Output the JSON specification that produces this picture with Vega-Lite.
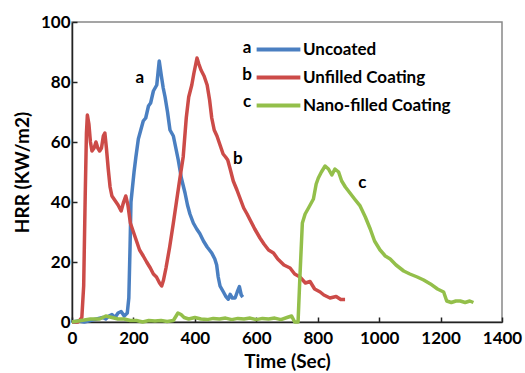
{
  "$schema": "https://vega.github.io/schema/vega-lite/v6.json",
  "width": 430,
  "height": 300,
  "autosize": "none",
  "padding": {"left": 72, "top": 22, "right": 23, "bottom": 51},
  "config": {"font": "Lato", "view": {"stroke": "#888888", "strokeWidth": 1.5}},
  "datasets": {
    "curves": [
      {"series": "Uncoated", "t": 0, "hrr": 0}, {"series": "Uncoated", "t": 20, "hrr": 0.3}, {"series": "Uncoated", "t": 40, "hrr": 0}, {"series": "Uncoated", "t": 60, "hrr": 0.5}, {"series": "Uncoated", "t": 80, "hrr": 1}, {"series": "Uncoated", "t": 100, "hrr": 1.5}, {"series": "Uncoated", "t": 110, "hrr": 1}, {"series": "Uncoated", "t": 120, "hrr": 2}, {"series": "Uncoated", "t": 130, "hrr": 2.5}, {"series": "Uncoated", "t": 140, "hrr": 1.5}, {"series": "Uncoated", "t": 150, "hrr": 3}, {"series": "Uncoated", "t": 160, "hrr": 3.5}, {"series": "Uncoated", "t": 170, "hrr": 2}, {"series": "Uncoated", "t": 180, "hrr": 3}, {"series": "Uncoated", "t": 185, "hrr": 8}, {"series": "Uncoated", "t": 189, "hrr": 25}, {"series": "Uncoated", "t": 192, "hrr": 40}, {"series": "Uncoated", "t": 202, "hrr": 50}, {"series": "Uncoated", "t": 208, "hrr": 55}, {"series": "Uncoated", "t": 216, "hrr": 61}, {"series": "Uncoated", "t": 224, "hrr": 64}, {"series": "Uncoated", "t": 232, "hrr": 67}, {"series": "Uncoated", "t": 240, "hrr": 68}, {"series": "Uncoated", "t": 249, "hrr": 72}, {"series": "Uncoated", "t": 256, "hrr": 73}, {"series": "Uncoated", "t": 265, "hrr": 77}, {"series": "Uncoated", "t": 276, "hrr": 79}, {"series": "Uncoated", "t": 280, "hrr": 83}, {"series": "Uncoated", "t": 284, "hrr": 87}, {"series": "Uncoated", "t": 291, "hrr": 82}, {"series": "Uncoated", "t": 297, "hrr": 78}, {"series": "Uncoated", "t": 303, "hrr": 75}, {"series": "Uncoated", "t": 311, "hrr": 70}, {"series": "Uncoated", "t": 319, "hrr": 64}, {"series": "Uncoated", "t": 330, "hrr": 62}, {"series": "Uncoated", "t": 338, "hrr": 58}, {"series": "Uncoated", "t": 346, "hrr": 54}, {"series": "Uncoated", "t": 356, "hrr": 48}, {"series": "Uncoated", "t": 368, "hrr": 43}, {"series": "Uncoated", "t": 376, "hrr": 39}, {"series": "Uncoated", "t": 384, "hrr": 36}, {"series": "Uncoated", "t": 395, "hrr": 33}, {"series": "Uncoated", "t": 406, "hrr": 31}, {"series": "Uncoated", "t": 416, "hrr": 29.5}, {"series": "Uncoated", "t": 428, "hrr": 27}, {"series": "Uncoated", "t": 440, "hrr": 25}, {"series": "Uncoated", "t": 455, "hrr": 23}, {"series": "Uncoated", "t": 465, "hrr": 21}, {"series": "Uncoated", "t": 471, "hrr": 19}, {"series": "Uncoated", "t": 476, "hrr": 15}, {"series": "Uncoated", "t": 482, "hrr": 12}, {"series": "Uncoated", "t": 493, "hrr": 10}, {"series": "Uncoated", "t": 501, "hrr": 8.5}, {"series": "Uncoated", "t": 509, "hrr": 7.6}, {"series": "Uncoated", "t": 515, "hrr": 9.2}, {"series": "Uncoated", "t": 522, "hrr": 8}, {"series": "Uncoated", "t": 531, "hrr": 8}, {"series": "Uncoated", "t": 538, "hrr": 10}, {"series": "Uncoated", "t": 545, "hrr": 11.8}, {"series": "Uncoated", "t": 551, "hrr": 9}, {"series": "Uncoated", "t": 556, "hrr": 8.3},
      {"series": "Unfilled Coating", "t": 0, "hrr": 0}, {"series": "Unfilled Coating", "t": 20, "hrr": 0}, {"series": "Unfilled Coating", "t": 32, "hrr": 1.5}, {"series": "Unfilled Coating", "t": 38, "hrr": 12}, {"series": "Unfilled Coating", "t": 43, "hrr": 42}, {"series": "Unfilled Coating", "t": 47, "hrr": 63}, {"series": "Unfilled Coating", "t": 50, "hrr": 69}, {"series": "Unfilled Coating", "t": 55, "hrr": 66}, {"series": "Unfilled Coating", "t": 60, "hrr": 60}, {"series": "Unfilled Coating", "t": 65, "hrr": 57}, {"series": "Unfilled Coating", "t": 72, "hrr": 58}, {"series": "Unfilled Coating", "t": 78, "hrr": 60}, {"series": "Unfilled Coating", "t": 84, "hrr": 58}, {"series": "Unfilled Coating", "t": 90, "hrr": 57}, {"series": "Unfilled Coating", "t": 96, "hrr": 58}, {"series": "Unfilled Coating", "t": 102, "hrr": 62}, {"series": "Unfilled Coating", "t": 107, "hrr": 63}, {"series": "Unfilled Coating", "t": 112, "hrr": 58}, {"series": "Unfilled Coating", "t": 118, "hrr": 51}, {"series": "Unfilled Coating", "t": 124, "hrr": 45}, {"series": "Unfilled Coating", "t": 130, "hrr": 42}, {"series": "Unfilled Coating", "t": 140, "hrr": 40.5}, {"series": "Unfilled Coating", "t": 150, "hrr": 39}, {"series": "Unfilled Coating", "t": 160, "hrr": 37}, {"series": "Unfilled Coating", "t": 168, "hrr": 40}, {"series": "Unfilled Coating", "t": 175, "hrr": 42}, {"series": "Unfilled Coating", "t": 182, "hrr": 39}, {"series": "Unfilled Coating", "t": 190, "hrr": 33}, {"series": "Unfilled Coating", "t": 200, "hrr": 30}, {"series": "Unfilled Coating", "t": 210, "hrr": 27}, {"series": "Unfilled Coating", "t": 220, "hrr": 24}, {"series": "Unfilled Coating", "t": 232, "hrr": 22}, {"series": "Unfilled Coating", "t": 243, "hrr": 20}, {"series": "Unfilled Coating", "t": 255, "hrr": 18}, {"series": "Unfilled Coating", "t": 265, "hrr": 16}, {"series": "Unfilled Coating", "t": 275, "hrr": 15}, {"series": "Unfilled Coating", "t": 285, "hrr": 13}, {"series": "Unfilled Coating", "t": 292, "hrr": 12}, {"series": "Unfilled Coating", "t": 298, "hrr": 14}, {"series": "Unfilled Coating", "t": 306, "hrr": 18}, {"series": "Unfilled Coating", "t": 318, "hrr": 25}, {"series": "Unfilled Coating", "t": 330, "hrr": 33}, {"series": "Unfilled Coating", "t": 340, "hrr": 40}, {"series": "Unfilled Coating", "t": 350, "hrr": 47}, {"series": "Unfilled Coating", "t": 362, "hrr": 55}, {"series": "Unfilled Coating", "t": 372, "hrr": 68}, {"series": "Unfilled Coating", "t": 380, "hrr": 75}, {"series": "Unfilled Coating", "t": 390, "hrr": 79}, {"series": "Unfilled Coating", "t": 397, "hrr": 83}, {"series": "Unfilled Coating", "t": 403, "hrr": 86}, {"series": "Unfilled Coating", "t": 407, "hrr": 88}, {"series": "Unfilled Coating", "t": 413, "hrr": 86}, {"series": "Unfilled Coating", "t": 420, "hrr": 84}, {"series": "Unfilled Coating", "t": 430, "hrr": 82}, {"series": "Unfilled Coating", "t": 440, "hrr": 79}, {"series": "Unfilled Coating", "t": 448, "hrr": 74}, {"series": "Unfilled Coating", "t": 455, "hrr": 68}, {"series": "Unfilled Coating", "t": 463, "hrr": 64}, {"series": "Unfilled Coating", "t": 472, "hrr": 62}, {"series": "Unfilled Coating", "t": 482, "hrr": 59}, {"series": "Unfilled Coating", "t": 492, "hrr": 56}, {"series": "Unfilled Coating", "t": 500, "hrr": 55}, {"series": "Unfilled Coating", "t": 507, "hrr": 54}, {"series": "Unfilled Coating", "t": 515, "hrr": 51}, {"series": "Unfilled Coating", "t": 525, "hrr": 47}, {"series": "Unfilled Coating", "t": 537, "hrr": 44}, {"series": "Unfilled Coating", "t": 548, "hrr": 41}, {"series": "Unfilled Coating", "t": 559, "hrr": 38}, {"series": "Unfilled Coating", "t": 570, "hrr": 36}, {"series": "Unfilled Coating", "t": 580, "hrr": 34}, {"series": "Unfilled Coating", "t": 595, "hrr": 31}, {"series": "Unfilled Coating", "t": 612, "hrr": 28}, {"series": "Unfilled Coating", "t": 625, "hrr": 26}, {"series": "Unfilled Coating", "t": 640, "hrr": 24}, {"series": "Unfilled Coating", "t": 656, "hrr": 23}, {"series": "Unfilled Coating", "t": 670, "hrr": 21}, {"series": "Unfilled Coating", "t": 690, "hrr": 19}, {"series": "Unfilled Coating", "t": 710, "hrr": 18}, {"series": "Unfilled Coating", "t": 725, "hrr": 16}, {"series": "Unfilled Coating", "t": 742, "hrr": 15}, {"series": "Unfilled Coating", "t": 760, "hrr": 13}, {"series": "Unfilled Coating", "t": 775, "hrr": 13.5}, {"series": "Unfilled Coating", "t": 790, "hrr": 11}, {"series": "Unfilled Coating", "t": 808, "hrr": 10}, {"series": "Unfilled Coating", "t": 820, "hrr": 9}, {"series": "Unfilled Coating", "t": 840, "hrr": 8}, {"series": "Unfilled Coating", "t": 860, "hrr": 8.5}, {"series": "Unfilled Coating", "t": 875, "hrr": 7.5}, {"series": "Unfilled Coating", "t": 889, "hrr": 7.5},
      {"series": "Nano-filled Coating", "t": 0, "hrr": 0}, {"series": "Nano-filled Coating", "t": 30, "hrr": 0.5}, {"series": "Nano-filled Coating", "t": 60, "hrr": 1}, {"series": "Nano-filled Coating", "t": 90, "hrr": 1}, {"series": "Nano-filled Coating", "t": 110, "hrr": 2}, {"series": "Nano-filled Coating", "t": 130, "hrr": 1.5}, {"series": "Nano-filled Coating", "t": 150, "hrr": 1}, {"series": "Nano-filled Coating", "t": 170, "hrr": 1}, {"series": "Nano-filled Coating", "t": 190, "hrr": 0.5}, {"series": "Nano-filled Coating", "t": 210, "hrr": 0.5}, {"series": "Nano-filled Coating", "t": 230, "hrr": 0}, {"series": "Nano-filled Coating", "t": 250, "hrr": 0.5}, {"series": "Nano-filled Coating", "t": 270, "hrr": 0.3}, {"series": "Nano-filled Coating", "t": 290, "hrr": 0.5}, {"series": "Nano-filled Coating", "t": 310, "hrr": 0.2}, {"series": "Nano-filled Coating", "t": 330, "hrr": 0.5}, {"series": "Nano-filled Coating", "t": 345, "hrr": 3}, {"series": "Nano-filled Coating", "t": 355, "hrr": 2.5}, {"series": "Nano-filled Coating", "t": 365, "hrr": 1.5}, {"series": "Nano-filled Coating", "t": 380, "hrr": 1}, {"series": "Nano-filled Coating", "t": 400, "hrr": 1.5}, {"series": "Nano-filled Coating", "t": 420, "hrr": 1}, {"series": "Nano-filled Coating", "t": 440, "hrr": 0.8}, {"series": "Nano-filled Coating", "t": 460, "hrr": 1.2}, {"series": "Nano-filled Coating", "t": 480, "hrr": 1}, {"series": "Nano-filled Coating", "t": 500, "hrr": 1.3}, {"series": "Nano-filled Coating", "t": 520, "hrr": 0.8}, {"series": "Nano-filled Coating", "t": 540, "hrr": 1.2}, {"series": "Nano-filled Coating", "t": 560, "hrr": 1}, {"series": "Nano-filled Coating", "t": 580, "hrr": 1.3}, {"series": "Nano-filled Coating", "t": 600, "hrr": 0.8}, {"series": "Nano-filled Coating", "t": 620, "hrr": 1.2}, {"series": "Nano-filled Coating", "t": 640, "hrr": 1}, {"series": "Nano-filled Coating", "t": 660, "hrr": 1.3}, {"series": "Nano-filled Coating", "t": 680, "hrr": 0.8}, {"series": "Nano-filled Coating", "t": 700, "hrr": 1.5}, {"series": "Nano-filled Coating", "t": 715, "hrr": 2}, {"series": "Nano-filled Coating", "t": 725, "hrr": 0}, {"series": "Nano-filled Coating", "t": 736, "hrr": 0}, {"series": "Nano-filled Coating", "t": 742, "hrr": 15}, {"series": "Nano-filled Coating", "t": 750, "hrr": 33}, {"series": "Nano-filled Coating", "t": 759, "hrr": 36}, {"series": "Nano-filled Coating", "t": 770, "hrr": 38}, {"series": "Nano-filled Coating", "t": 786, "hrr": 41}, {"series": "Nano-filled Coating", "t": 795, "hrr": 46}, {"series": "Nano-filled Coating", "t": 802, "hrr": 48}, {"series": "Nano-filled Coating", "t": 812, "hrr": 50}, {"series": "Nano-filled Coating", "t": 824, "hrr": 52}, {"series": "Nano-filled Coating", "t": 835, "hrr": 51}, {"series": "Nano-filled Coating", "t": 846, "hrr": 49}, {"series": "Nano-filled Coating", "t": 856, "hrr": 51}, {"series": "Nano-filled Coating", "t": 868, "hrr": 50}, {"series": "Nano-filled Coating", "t": 878, "hrr": 47}, {"series": "Nano-filled Coating", "t": 890, "hrr": 45}, {"series": "Nano-filled Coating", "t": 905, "hrr": 43}, {"series": "Nano-filled Coating", "t": 920, "hrr": 41}, {"series": "Nano-filled Coating", "t": 938, "hrr": 38.7}, {"series": "Nano-filled Coating", "t": 955, "hrr": 35}, {"series": "Nano-filled Coating", "t": 971, "hrr": 31}, {"series": "Nano-filled Coating", "t": 985, "hrr": 27}, {"series": "Nano-filled Coating", "t": 1003, "hrr": 24}, {"series": "Nano-filled Coating", "t": 1020, "hrr": 22}, {"series": "Nano-filled Coating", "t": 1036, "hrr": 21}, {"series": "Nano-filled Coating", "t": 1055, "hrr": 19}, {"series": "Nano-filled Coating", "t": 1080, "hrr": 17}, {"series": "Nano-filled Coating", "t": 1100, "hrr": 16}, {"series": "Nano-filled Coating", "t": 1124, "hrr": 15}, {"series": "Nano-filled Coating", "t": 1145, "hrr": 14}, {"series": "Nano-filled Coating", "t": 1167, "hrr": 12.7}, {"series": "Nano-filled Coating", "t": 1190, "hrr": 11}, {"series": "Nano-filled Coating", "t": 1210, "hrr": 10}, {"series": "Nano-filled Coating", "t": 1220, "hrr": 7}, {"series": "Nano-filled Coating", "t": 1235, "hrr": 6.5}, {"series": "Nano-filled Coating", "t": 1250, "hrr": 7}, {"series": "Nano-filled Coating", "t": 1264, "hrr": 7}, {"series": "Nano-filled Coating", "t": 1280, "hrr": 6.5}, {"series": "Nano-filled Coating", "t": 1295, "hrr": 7}, {"series": "Nano-filled Coating", "t": 1307, "hrr": 6.5}
    ],
    "notes": [
      {"label": "a", "t": 221, "hrr": 81.5},
      {"label": "b", "t": 540, "hrr": 54.5},
      {"label": "c", "t": 945, "hrr": 46.3},
      {"label": "a", "t": 570, "hrr": 91.3},
      {"label": "b", "t": 570, "hrr": 82.3},
      {"label": "c", "t": 570, "hrr": 73.3}
    ]
  },
  "layer": [
    {
      "data": {"name": "curves"},
      "mark": {"type": "line", "strokeWidth": 3.5, "strokeJoin": "round"},
      "encoding": {
        "x": {"field": "t", "type": "quantitative", "scale": {"domain": [0, 1400], "nice": false},
          "axis": {"title": "Time (Sec)", "values": [0, 200, 400, 600, 800, 1000, 1200, 1400], "format": "d", "labelOverlap": false, "labelFlush": false, "grid": false,
            "domainColor": "#222222", "domainWidth": 1.5, "tickColor": "#222222", "tickSize": -5, "tickWidth": 1.5,
            "labelFont": "Lato", "labelFontWeight": "bold", "labelFontSize": 17, "labelColor": "#000000", "labelPadding": 13,
            "titleFont": "Lato", "titleFontWeight": "bold", "titleFontSize": 19, "titleColor": "#000000", "titlePadding": 6}},
        "y": {"field": "hrr", "type": "quantitative", "scale": {"domain": [0, 100], "nice": false},
          "axis": {"title": "HRR (KW/m2)", "values": [0, 20, 40, 60, 80, 100], "labelOverlap": false, "labelFlush": false, "grid": false,
            "domainColor": "#222222", "domainWidth": 1.5, "tickColor": "#222222", "tickSize": -5, "tickWidth": 1.5,
            "labelFont": "Lato", "labelFontWeight": "bold", "labelFontSize": 17, "labelColor": "#000000", "labelPadding": 7,
            "titleFont": "Lato", "titleFontWeight": "bold", "titleFontSize": 19, "titleColor": "#000000", "titlePadding": 8}},
        "color": {"field": "series", "type": "nominal",
          "scale": {"domain": ["Uncoated", "Unfilled Coating", "Nano-filled Coating"], "range": ["#4a7fc1", "#cc4b48", "#93bf4a"]},
          "legend": {"title": null, "orient": "none", "legendX": 187, "legendY": 8, "symbolType": "M-1.25,0H1.25",
            "symbolSize": 1225, "symbolStrokeWidth": 4, "symbolFillColor": "transparent", "labelFont": "Lato", "labelFontWeight": "bold", "labelFontSize": 17,
            "labelColor": "#000000", "labelOffset": 5, "rowPadding": 0}},
        "detail": {"field": "series"}
      }
    },
    {
      "data": {"name": "notes"},
      "mark": {"type": "text", "font": "Lato", "fontWeight": "bold", "fontSize": 17, "color": "#000000", "align": "center", "baseline": "middle"},
      "encoding": {
        "x": {"field": "t", "type": "quantitative"},
        "y": {"field": "hrr", "type": "quantitative"},
        "text": {"field": "label"}
      }
    }
  ]
}
